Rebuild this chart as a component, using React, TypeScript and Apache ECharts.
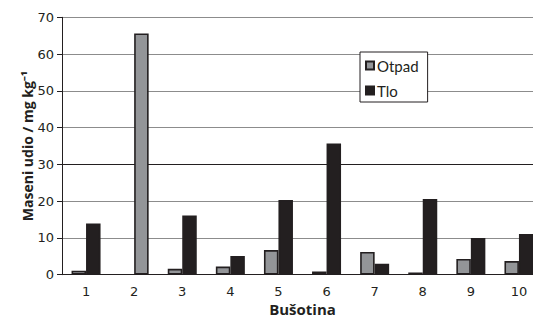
import React, { useEffect, useRef } from "react";
import * as echarts from "echarts";

const categories = ["1", "2", "3", "4", "5", "6", "7", "8", "9", "10"];
const otpad = [1.1, 65.6, 1.6, 2.2, 6.7, 0.9, 6.2, 0.6, 4.3, 3.7];
const tlo = [13.9, null, 16.1, 5.1, 20.3, 35.7, 3.0, 20.6, 10.0, 11.1];
const yTicks = [0, 10, 20, 30, 40, 50, 60, 70];

const GRAY = "#939598";
const DARK = "#231f20";

export default function App() {
  const ref = useRef<HTMLDivElement>(null);
  useEffect(() => {
    if (!ref.current) return;
    const chart = echarts.init(ref.current, null, { renderer: "svg" });
    // Where a well has only an Otpad sample, the picture draws it in the right slot.
    const otpadData = otpad.map((v, i) => (tlo[i] === null ? null : v));
    const tloData = tlo.map((v, i) =>
      v === null ? { value: otpad[i], itemStyle: { color: GRAY } } : v
    );
    const gridColors = yTicks.map((t) => (t === 30 ? DARK : "#8c8c8c"));
    chart.setOption({
      animation: false,
      backgroundColor: "#ffffff",
      grid: {
        left: 62,
        right: 0,
        top: 17.3,
        bottom: 43.3,
        containLabel: false,
        outerBoundsMode: "none",
      },
      legend: {
        left: 360,
        top: 52,
        orient: "vertical",
        backgroundColor: "#ffffff",
        borderColor: DARK,
        borderWidth: 1,
        padding: [6, 9, 4, 5],
        itemGap: 10,
        itemWidth: 8,
        itemHeight: 8,
        icon: "rect",
        textStyle: { fontFamily: "Lato", fontSize: 15, color: DARK, padding: [0, 0, 0, -2] },
        data: ["Otpad", "Tlo"],
      },
      xAxis: {
        type: "category",
        data: categories,
        name: "Bušotina",
        nameLocation: "middle",
        nameGap: 26,
        nameMoveOverlap: false,
        nameTextStyle: {
          fontFamily: "Open Sans",
          fontWeight: "bold",
          fontSize: 15,
          lineHeight: 16,
          color: DARK,
        },
        axisLine: { lineStyle: { color: DARK, width: 1 } },
        axisTick: { length: 5, lineStyle: { color: DARK } },
        axisLabel: { fontFamily: "DejaVu Sans", fontSize: 13, color: DARK, margin: 10 },
      },
      yAxis: {
        type: "value",
        min: 0,
        max: 70,
        interval: 10,
        name: "Maseni udio / mg kg⁻¹",
        nameLocation: "middle",
        nameGap: 28,
        nameMoveOverlap: false,
        nameTextStyle: { fontFamily: "Open Sans", fontWeight: "bold", fontSize: 14, color: DARK },
        axisLine: { show: true, lineStyle: { color: DARK, width: 1 } },
        axisTick: { show: true, length: 5, lineStyle: { color: DARK } },
        axisLabel: { fontFamily: "DejaVu Sans", fontSize: 13, color: DARK, margin: 8 },
        splitLine: { lineStyle: { color: gridColors, width: 1 } },
      },
      series: [
        {
          name: "Otpad",
          type: "bar",
          data: otpadData,
          barWidth: 14.5,
          barGap: "0%",
          itemStyle: { color: GRAY, borderColor: DARK, borderWidth: 1.6 },
        },
        {
          name: "Tlo",
          type: "bar",
          data: tloData,
          barWidth: 14.5,
          barGap: "0%",
          itemStyle: { color: DARK, borderColor: DARK, borderWidth: 1.6 },
        },
      ],
    });
    return () => chart.dispose();
  }, []);
  return (
    <div
      style={{
        position: "fixed",
        left: 0,
        top: 0,
        width: 533,
        height: 318,
        overflow: "hidden",
        background: "#fff",
      }}
    >
      <div ref={ref} style={{ width: 543, height: 318 }} />
    </div>
  );
}
